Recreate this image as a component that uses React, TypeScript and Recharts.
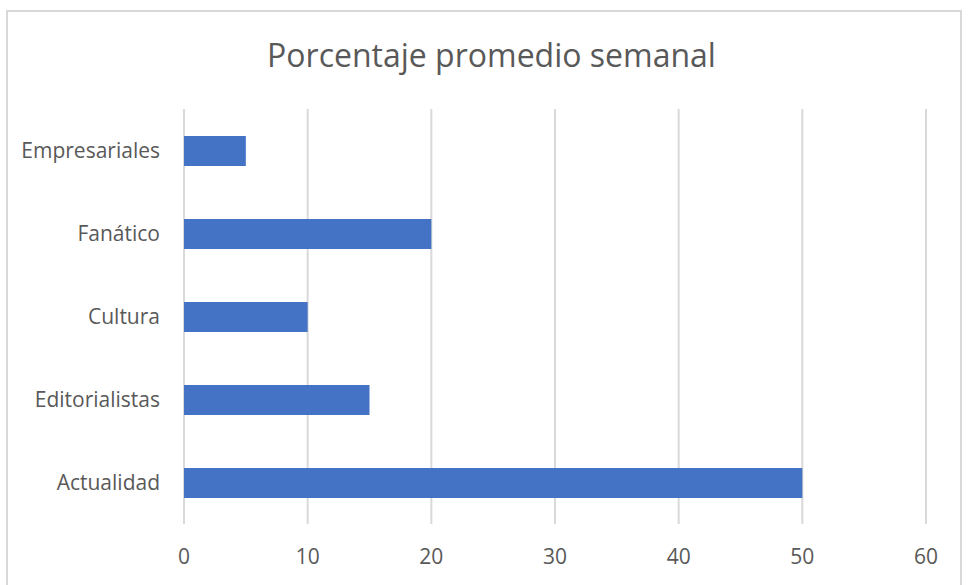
import React from 'react';
import { BarChart, Bar, XAxis, YAxis, CartesianGrid } from 'recharts';

const categories = ['Empresariales', 'Fanático', 'Cultura', 'Editorialistas', 'Actualidad'];
const values = [5, 20, 10, 15, 50];
const xTicks = [0, 10, 20, 30, 40, 50, 60];

const data = categories.map((name, i) => ({ name, value: values[i] }));

const FONT = '"Open Sans", "Liberation Sans", sans-serif';
const TEXT_COLOR = '#595959';

const App: React.FC = () => {
  return (
    <div style={{ position: 'absolute', left: 0, top: 0, width: 969, height: 585, overflow: 'hidden', background: '#fff' }}>
      {/* chart frame, bottom edge falls outside the picture */}
      <div
        style={{
          position: 'absolute',
          left: 6,
          top: 10,
          width: 956,
          height: 600,
          border: '2px solid #d9d9d9',
          boxSizing: 'border-box',
        }}
      />
      <div
        style={{
          position: 'absolute',
          left: 0,
          width: 969,
          top: 33,
          textAlign: 'center',
          fontFamily: FONT,
          fontSize: 32,
          color: TEXT_COLOR,
          paddingLeft: 14,
          boxSizing: 'border-box',
        }}
      >
        Porcentaje promedio semanal
      </div>
      <div style={{ position: 'absolute', left: 0, top: 0 }}>
        <BarChart
          width={969}
          height={585}
          data={data}
          layout="vertical"
          margin={{ top: 109, right: 43, bottom: 0, left: 0 }}
        >
          <CartesianGrid horizontal={false} stroke="#d9d9d9" strokeWidth={2} />
          <XAxis
            type="number"
            domain={[0, 60]}
            ticks={xTicks}
            axisLine={false}
            tickLine={false}
            height={61}
            tickMargin={19}
            tick={{ fill: TEXT_COLOR, fontSize: 21, fontFamily: FONT }}
            interval={0}
          />
          <YAxis
            type="category"
            dataKey="name"
            width={184}
            axisLine={false}
            tickLine={false}
            tickMargin={18}
            tick={{ fill: TEXT_COLOR, fontSize: 21, fontFamily: FONT }}
            interval={0}
          />
          <Bar dataKey="value" fill="#4472c4" barSize={30} isAnimationActive={false} />
        </BarChart>
      </div>
    </div>
  );
};

export default App;
